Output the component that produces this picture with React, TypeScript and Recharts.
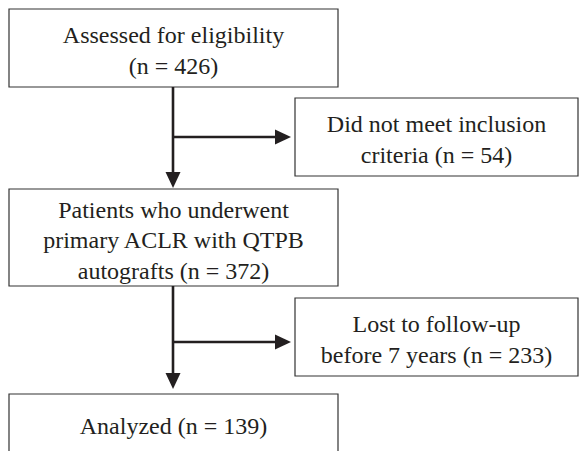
import { ScatterChart, Scatter, XAxis, YAxis, ReferenceArea, ReferenceLine } from 'recharts';

// flowchart boxes, in axis units (x: 0-580, y: 0-451 top-down)
const boxLabels = [
    ['Assessed for eligibility', '(n = 426)'],
    ['Did not meet inclusion', 'criteria (n = 54)'],
    ['Patients who underwent', 'primary ACLR with QTPB', 'autografts (n = 372)'],
    ['Lost to follow-up', 'before 7 years (n = 233)'],
    ['Analyzed (n = 139)'],
];
const boxLeft = [9, 295, 9, 295, 9];
const boxRight = [338, 578, 338, 578, 338];
const boxTop = [9, 98, 189, 298, 394];
const boxBottom = [87, 176, 286, 376, 452];

// arrows: start -> end (tip)
const arrowStart = [
    { x: 173, y: 87 },
    { x: 173, y: 137 },
    { x: 173, y: 286 },
    { x: 173, y: 342 },
];
const arrowEnd = [
    { x: 173, y: 188 },
    { x: 291, y: 137 },
    { x: 173, y: 389 },
    { x: 291, y: 342 },
];

const INK = '#231f20';
const FONT = 'Liberation Serif';

const nodes = boxLabels.map((lines, i) => ({
    x: (boxLeft[i] + boxRight[i]) / 2,
    y: (boxTop[i] + boxBottom[i]) / 2,
    lines,
}));

function Arrow(props: any) {
    const { x1, y1, x2, y2 } = props;
    if ([x1, y1, x2, y2].some(v => v === undefined || v === null)) return null;
    const ang = Math.atan2(y2 - y1, x2 - x1);
    const len = 16;
    const half = 7.5;
    const bx = x2 - len * Math.cos(ang);
    const by = y2 - len * Math.sin(ang);
    const px = -Math.sin(ang) * half;
    const py = Math.cos(ang) * half;
    return (
        <g>
            <line x1={x1} y1={y1} x2={bx + Math.cos(ang)} y2={by + Math.sin(ang)} stroke={INK} strokeWidth={2.6} />
            <polygon points={`${x2},${y2} ${bx + px},${by + py} ${bx - px},${by - py}`} fill={INK} />
        </g>
    );
}

function BoxText(props: any) {
    const { cx, cy, payload } = props;
    if (cx === undefined || !payload) return null;
    const lines: string[] = payload.lines;
    const lh = 30.5;
    const start = cy - ((lines.length - 1) * lh) / 2 + 10.5;
    return (
        <g>
            {lines.map((l, i) => (
                <text
                    key={i}
                    x={cx}
                    y={start + i * lh}
                    textAnchor="middle"
                    fontFamily={FONT}
                    fontSize={24}
                    fill={INK}
                    style={{ fontFamily: FONT }}
                >
                    {l}
                </text>
            ))}
        </g>
    );
}

export default function App() {
    return (
        <div style={{ position: 'absolute', left: 0, top: 0, background: '#fff' }}>
            <ScatterChart width={580} height={451} margin={{ top: 0, right: 0, bottom: 0, left: 0 }}>
                <XAxis type="number" dataKey="x" domain={[0, 580]} hide />
                <YAxis type="number" dataKey="y" domain={[0, 451]} reversed hide />
                {boxLabels.map((_, i) => (
                    <ReferenceArea
                        key={i}
                        x1={boxLeft[i]}
                        x2={boxRight[i]}
                        y1={boxTop[i]}
                        y2={boxBottom[i]}
                        fill="#fff"
                        fillOpacity={1}
                        stroke="#333"
                        strokeWidth={1.2}
                        ifOverflow="hidden"
                    />
                ))}
                {arrowStart.map((s, i) => (
                    <ReferenceLine
                        key={i}
                        segment={[s, arrowEnd[i]]}
                        shape={Arrow}
                        ifOverflow="visible"
                    />
                ))}
                <Scatter data={nodes} shape={BoxText} isAnimationActive={false} />
            </ScatterChart>
        </div>
    );
}
